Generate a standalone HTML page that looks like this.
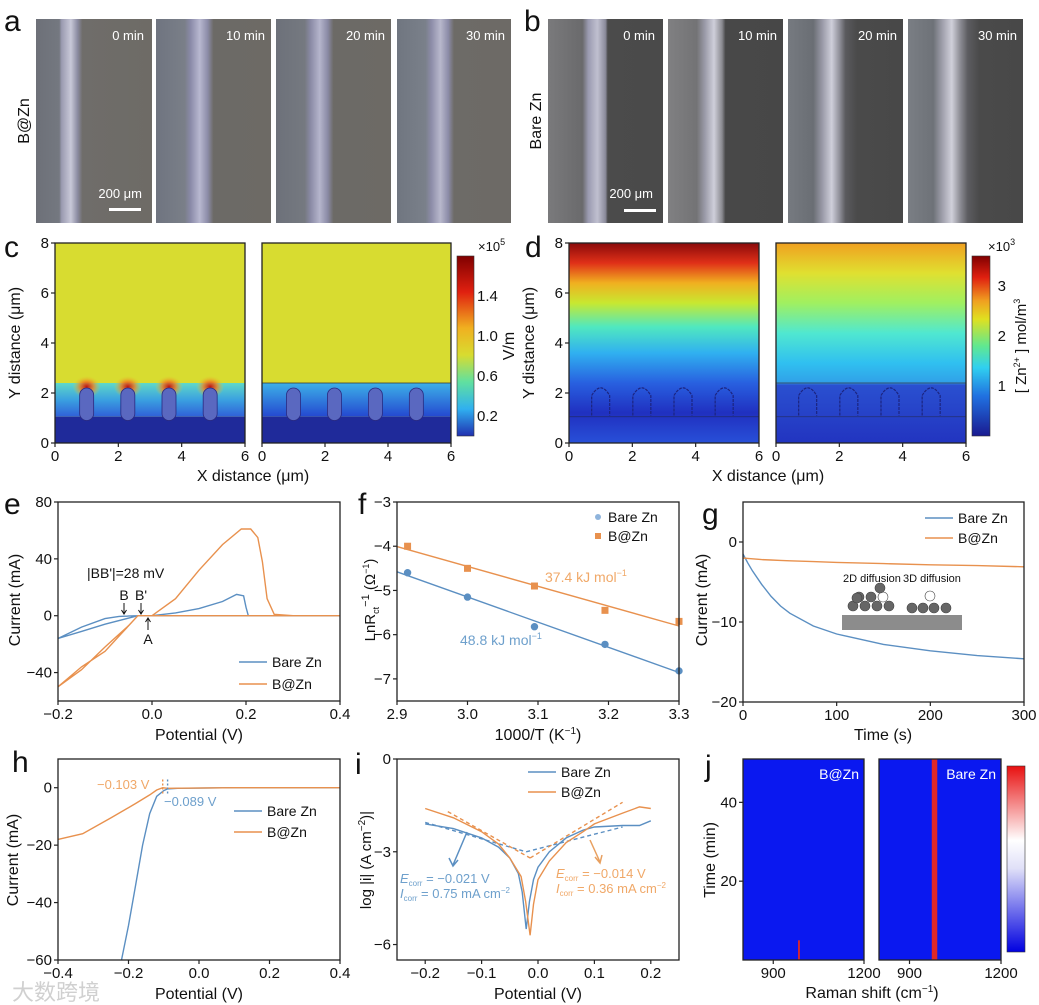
<!DOCTYPE html>
<html><head><meta charset="utf-8">
<style>
body{margin:0;background:#fff;}
#fig{position:relative;width:1039px;height:1005px;overflow:hidden;font-family:"Liberation Sans",Arial,sans-serif;}
.img{position:absolute;top:19px;height:204px;}
.lbl{position:absolute;color:#fff;font-size:13px;}
</style></head>
<body>
<div id="fig">
<!-- micrographs a -->
<div class="img" style="left:36px;width:116px;background:linear-gradient(90deg,#6d7078 0,#747880 20%,#9a9ab0 22%,#c8c8d8 30%,#8a8aa0 36%,#6f6d6a 40%,#6e6b66 100%)"><span class="lbl" style="right:8px;top:9px">0 min</span><span class="lbl" style="right:10px;top:167px">200 μm</span><div style="position:absolute;left:73px;top:189px;width:32px;height:3px;background:#fff"></div></div>
<div class="img" style="left:156px;width:115px;background:linear-gradient(90deg,#6f7480 0,#7a7f88 25%,#8a8aa8 30%,#b8b8d0 38%,#8c8ca8 45%,#6c6a66 50%,#6d6a65 100%)"><span class="lbl" style="right:6px;top:9px">10 min</span></div>
<div class="img" style="left:276px;width:115px;background:linear-gradient(90deg,#6d717a 0,#757980 25%,#8a8aa5 30%,#b5b5cc 38%,#8a8aa5 45%,#6c6a66 50%,#6d6a65 100%)"><span class="lbl" style="right:6px;top:9px">20 min</span></div>
<div class="img" style="left:397px;width:114px;background:linear-gradient(90deg,#707680 0,#7a808a 25%,#8c8ca8 30%,#b8b8cc 38%,#8c8ca8 45%,#6d6b67 50%,#6d6a66 100%)"><span class="lbl" style="right:6px;top:9px">30 min</span></div>
<!-- micrographs b -->
<div class="img" style="left:548px;width:115px;background:linear-gradient(90deg,#7a7a7c 0,#6a6a6c 30%,#9a9ab0 35%,#c0c0d0 43%,#8a8a9a 50%,#4b4b4b 52%,#4a4a4a 100%)"><span class="lbl" style="right:8px;top:9px">0 min</span><span class="lbl" style="right:10px;top:167px">200 μm</span><div style="position:absolute;left:76px;top:190px;width:32px;height:3px;background:#fff"></div></div>
<div class="img" style="left:668px;width:115px;background:linear-gradient(90deg,#808082 0,#737375 25%,#9a9aa8 32%,#cfcfda 40%,#8a8a90 47%,#484848 50%,#474747 100%)"><span class="lbl" style="right:6px;top:9px">10 min</span></div>
<div class="img" style="left:788px;width:115px;background:linear-gradient(90deg,#767a80 0,#6a6e74 22%,#9a9aa8 30%,#cfcfda 38%,#8e8e98 45%,#5a5a5e 50%,#4a4a4a 60%,#484848 100%)"><span class="lbl" style="right:6px;top:9px">20 min</span></div>
<div class="img" style="left:908px;width:115px;background:linear-gradient(90deg,#7a7e84 0,#6e7278 22%,#a0a0ac 30%,#d0d0da 38%,#909098 45%,#5c5c60 52%,#4a4a4a 62%,#484848 100%)"><span class="lbl" style="right:6px;top:9px">30 min</span></div>

<svg id="svg" width="1039" height="1005" style="position:absolute;left:0;top:0">
<defs>
<linearGradient id="cYel" x1="0" y1="0" x2="0" y2="1"><stop offset="0" stop-color="#d9dc2e"/><stop offset="1" stop-color="#d4db34"/></linearGradient>
<linearGradient id="cLow" x1="0" y1="0" x2="0" y2="1"><stop offset="0" stop-color="#5fd8c8"/><stop offset="0.5" stop-color="#3aa0e0"/><stop offset="1" stop-color="#3060d8"/></linearGradient>
<linearGradient id="cLow2" x1="0" y1="0" x2="0" y2="1"><stop offset="0" stop-color="#3db0e8"/><stop offset="1" stop-color="#2448d0"/></linearGradient>
<linearGradient id="jet" x1="0" y1="0" x2="0" y2="1"><stop offset="0" stop-color="#800000"/><stop offset="0.12" stop-color="#e02010"/><stop offset="0.25" stop-color="#f0a020"/><stop offset="0.35" stop-color="#e0e020"/><stop offset="0.5" stop-color="#60e890"/><stop offset="0.62" stop-color="#30d0f0"/><stop offset="0.78" stop-color="#2070e0"/><stop offset="1" stop-color="#1a1a90"/></linearGradient>
<linearGradient id="jetC" x1="0" y1="0" x2="0" y2="1"><stop offset="0" stop-color="#800000"/><stop offset="0.2" stop-color="#e02010"/><stop offset="0.4" stop-color="#f0b020"/><stop offset="0.55" stop-color="#d8dc30"/><stop offset="0.7" stop-color="#60e0a0"/><stop offset="0.85" stop-color="#30b0f0"/><stop offset="1" stop-color="#2030b0"/></linearGradient>
<linearGradient id="dL" x1="0" y1="0" x2="0" y2="1"><stop offset="0" stop-color="#8a0a0a"/><stop offset="0.1" stop-color="#e03018"/><stop offset="0.2" stop-color="#f0b020"/><stop offset="0.3" stop-color="#c8e830"/><stop offset="0.42" stop-color="#50e8c0"/><stop offset="0.55" stop-color="#30b0f0"/><stop offset="0.7" stop-color="#2860e0"/><stop offset="0.85" stop-color="#2030c0"/><stop offset="1" stop-color="#2850d8"/></linearGradient>
<linearGradient id="dR" x1="0" y1="0" x2="0" y2="1"><stop offset="0" stop-color="#f0a020"/><stop offset="0.15" stop-color="#e0e030"/><stop offset="0.3" stop-color="#a0f060"/><stop offset="0.45" stop-color="#50e8d0"/><stop offset="0.6" stop-color="#30c0f0"/><stop offset="0.7" stop-color="#30a0e8"/><stop offset="0.71" stop-color="#2a50d0"/><stop offset="1" stop-color="#2234c0"/></linearGradient>
<linearGradient id="jCb" x1="0" y1="0" x2="0" y2="1"><stop offset="0" stop-color="#e81010"/><stop offset="0.4" stop-color="#fff"/><stop offset="0.55" stop-color="#e0e0f8"/><stop offset="1" stop-color="#0000e0"/></linearGradient>
<radialGradient id="glow"><stop offset="0" stop-color="#c01010"/><stop offset="0.5" stop-color="#f08020" stop-opacity="0.8"/><stop offset="1" stop-color="#e0d030" stop-opacity="0"/></radialGradient>
</defs>
</svg>
</div>
<script>
// ---------- data ----------
const eBareX=[-0.2,-0.15,-0.1,-0.07,-0.03,0.0,0.05,0.1,0.15,0.18,0.195,0.2,0.205,0.3,0.4,0.3,0.1,0.0,-0.03,-0.1,-0.15,-0.2];
const eBareY=[-16,-8,-2,-0.5,0,0,2,5,10,15,14,6,0,0,0,0,0,0,0,-6,-11,-16];
const eBzX=[-0.2,-0.15,-0.1,-0.05,-0.03,0.0,0.05,0.1,0.15,0.19,0.21,0.225,0.235,0.245,0.26,0.3,0.4,0.3,0.1,0.0,-0.03,-0.1,-0.15,-0.2];
const eBzY=[-50,-38,-22,-7,0,0,12,32,50,61,61,55,38,12,1,0,0,0,0,0,0,-25,-36,-50];
const fX=[2.915,3.0,3.095,3.195,3.3];
const fBare=[-4.6,-5.15,-5.82,-6.22,-6.82];
const fBz=[-4.0,-4.5,-4.9,-5.45,-5.7];
const gT=[0,5,10,20,30,40,50,75,100,150,200,250,300];
const gBare=[-1.5,-2.6,-3.6,-5.3,-6.8,-8.0,-8.9,-10.5,-11.5,-12.8,-13.6,-14.2,-14.6];
const gBz=[-2,-2.05,-2.1,-2.2,-2.25,-2.3,-2.35,-2.45,-2.55,-2.7,-2.85,-2.95,-3.1];
const hBareX=[-0.22,-0.2,-0.18,-0.16,-0.14,-0.12,-0.1,-0.089,-0.06,0.1,0.4];
const hBareY=[-60,-48,-34,-20,-9,-3,-1,-0.4,-0.2,0,0];
const hBzX=[-0.4,-0.33,-0.25,-0.18,-0.14,-0.12,-0.103,-0.09,0.1,0.4];
const hBzY=[-18,-16,-10.5,-5.5,-2.5,-0.8,0,-0.2,0,0];
const iBareX=[-0.2,-0.15,-0.1,-0.07,-0.05,-0.035,-0.028,-0.021,-0.015,-0.008,0.0,0.02,0.05,0.08,0.1,0.15,0.18,0.2];
const iBareY=[-2.1,-2.25,-2.55,-2.85,-3.2,-3.7,-4.3,-5.5,-4.6,-3.9,-3.5,-3.0,-2.55,-2.3,-2.2,-2.15,-2.15,-2.0];
const iBzX=[-0.2,-0.15,-0.1,-0.07,-0.05,-0.03,-0.022,-0.014,-0.008,0.0,0.02,0.05,0.08,0.1,0.15,0.18,0.2];
const iBzY=[-1.6,-1.9,-2.35,-2.75,-3.2,-3.8,-4.6,-5.7,-4.7,-3.9,-3.3,-2.7,-2.35,-2.1,-1.75,-1.55,-1.6];
const jBzStripe=[985];
const jBzStripeTop=[5];
const jBareStripe=[982];
const jBareStripeTop=[51];
const dendX=[1.0,2.3,3.6,4.9];

const S=document.getElementById('svg');
const NS='http://www.w3.org/2000/svg';
function mk(tag,attrs,parent){const el=document.createElementNS(NS,tag);for(const k in attrs)el.setAttribute(k,attrs[k]);(parent||S).appendChild(el);return el;}
function txt(x,y,s,opt){opt=opt||{};const t=mk('text',{x:x,y:y,'font-size':opt.fs||14,'text-anchor':opt.a||'middle',fill:opt.c||'#111','font-family':'"Liberation Sans",Arial,sans-serif'});
 if(opt.rot)t.setAttribute('transform','rotate(-90 '+x+' '+y+')');
 if(opt.w)t.setAttribute('font-weight',opt.w);
 if(opt.st)t.setAttribute('font-style',opt.st);
 t.innerHTML=s;return t;}
function scale(d0,d1,p0,p1){return v=>p0+(v-d0)/(d1-d0)*(p1-p0);}
function frame(x0,y0,x1,y1,name){const r=mk('rect',{x:x0,y:y0,width:x1-x0,height:y1-y0,fill:'none',stroke:'#222','stroke-width':1.3});
 
 return r;}
function xticks(sx,vals,y,labels,name){vals.forEach((v,i)=>{const l=mk('line',{x1:sx(v),x2:sx(v),y1:y,y2:y+4,stroke:'#222','stroke-width':1.2});
 
 
 const t=txt(sx(v),y+18,labels[i],{fs:15});
 
 });}
function yticks(sy,vals,x,labels,name){vals.forEach((v,i)=>{const l=mk('line',{x1:x,x2:x-4,y1:sy(v),y2:sy(v),stroke:'#222','stroke-width':1.2});
 
 
 const t=txt(x-6,sy(v)+5,labels[i],{fs:15,a:'end'});
 
 });}
function line(xs,ys,sx,sy,col,name,dash){const d=xs.map((v,i)=>(i?'L':'M')+sx(v).toFixed(1)+','+sy(ys[i]).toFixed(1)).join('');
 const p=mk('path',{d:d,fill:'none',stroke:col,'stroke-width':1.4});
 if(dash)p.setAttribute('stroke-dasharray',dash);
 
 return p;}
function plabel(x,y,s){const t=txt(x,y,s,{fs:30,a:'start'});
 
 }
const BL='#5b8fc2', OR='#e8914e';

// panel letters top
plabel(4,31,'a');plabel(524,31,'b');
let t=txt(29,121,'B@Zn',{fs:16,rot:true});
t=txt(541,121,'Bare Zn',{fs:16,rot:true});

// ---------- panel c ----------
function simC(x0,x1,y0,y1,covered,name){
 const sx=scale(0,6,x0,x1), sy=scale(0,8,y1,y0);
 let r=mk('rect',{x:x0,y:y0,width:x1-x0,height:y1-y0,fill:'#d8dc30'});
 
 
 if(!covered){r=mk('rect',{x:x0,y:sy(2.4),width:x1-x0,height:sy(1.05)-sy(2.4),fill:'url(#cLow)'});
  dendX.forEach(v=>{const g=mk('ellipse',{cx:sx(v),cy:sy(2.25),rx:14,ry:11,fill:'url(#glow)'});
  
  });}
 else {r=mk('rect',{x:x0,y:sy(2.4),width:x1-x0,height:sy(1.05)-sy(2.4),fill:'url(#cLow2)'});
  mk('line',{x1:x0,x2:x1,y1:sy(2.4),y2:sy(2.4),stroke:'#333','stroke-width':0.8});}
 
 
 r=mk('rect',{x:x0,y:sy(1.05),width:x1-x0,height:sy(0)-sy(1.05),fill:'#1f2a9a'});
 
 
 dendX.forEach(v=>{const e=mk('rect',{x:sx(v)-7,y:sy(2.2),width:14,height:sy(0.9)-sy(2.2),rx:7,fill:'#5a68c0',stroke:'#2a2a80','stroke-width':0.8});
  
  });
 frame(x0,y0,x1,y1,name+'-frame');
 xticks(sx,[0,2,4,6],y1,['0','2','4','6'],name+'-x');
 return sy;}
let sy=simC(55,245,243,443,false,'c-left');
yticks(sy,[0,2,4,6,8],55,['0','2','4','6','8'],'c-y');
simC(262,451,243,443,true,'c-right');
plabel(4,257,'c');
t=txt(20,343,'Y distance (μm)',{fs:16,rot:true});
t=txt(253,481,'X distance (μm)',{fs:16});
let cb=mk('rect',{x:457,y:256,width:17,height:180,fill:'url(#jetC)',stroke:'#333','stroke-width':0.6});

const cbC=scale(0,1.8,436,256);
[0.2,0.6,1.0,1.4].forEach(v=>{const tt=txt(477,cbC(v)+5,v.toFixed(1),{fs:15,a:'start'});});
t=txt(478,251,'×10<tspan font-size="9" dy="-6">5</tspan>',{fs:13,a:'start'});
t=txt(514,346,'V/m',{fs:16,rot:true});

// ---------- panel d ----------
function simD(x0,x1,y0,y1,grad,covered,name){
 const sx=scale(0,6,x0,x1), sy=scale(0,8,y1,y0);
 let r=mk('rect',{x:x0,y:y0,width:x1-x0,height:y1-y0,fill:grad});
 
 if(covered){mk('line',{x1:x0,x2:x1,y1:sy(2.4),y2:sy(2.4),stroke:'#334','stroke-width':0.8});}
 mk('line',{x1:x0,x2:x1,y1:sy(1.05),y2:sy(1.05),stroke:'#223','stroke-width':0.7,opacity:0.6});
 dendX.forEach(v=>{const e=mk('path',{d:'M'+(sx(v)-9)+','+sy(1.1)+' L'+(sx(v)-9)+','+sy(1.9)+' Q'+sx(v)+','+(sy(2.35)-4)+' '+(sx(v)+9)+','+sy(1.9)+' L'+(sx(v)+9)+','+sy(1.1),fill:'none',stroke:'#1c2480','stroke-width':1.2,'stroke-dasharray':'3,1'});
  });
 frame(x0,y0,x1,y1,name+'-frame');
 xticks(sx,[0,2,4,6],y1,['0','2','4','6'],name+'-x');
 return sy;}
sy=simD(569,759,243,443,'url(#dL)',false,'d-left');
yticks(sy,[0,2,4,6,8],569,['0','2','4','6','8'],'d-y');
simD(776,966,243,443,'url(#dR)',true,'d-right');
plabel(525,257,'d');
t=txt(534,343,'Y distance (μm)',{fs:16,rot:true});
t=txt(768,481,'X distance (μm)',{fs:16});
cb=mk('rect',{x:972,y:256,width:18,height:180,fill:'url(#jet)',stroke:'#333','stroke-width':0.6});

const cbD=scale(0,3.6,436,256);
[1,2,3].forEach(v=>{const tt=txt(995,cbD(v)+5,String(v),{fs:15,a:'end'});tt.setAttribute('x',1006);});
t=txt(988,251,'×10<tspan font-size="9" dy="-6">3</tspan>',{fs:13,a:'start'});
t=txt(1026,346,'[ Zn<tspan font-size="9" dy="-6">2+</tspan><tspan dy="6"> ] mol/m</tspan><tspan font-size="9" dy="-6">3</tspan>',{fs:15,rot:true});

// ---------- panel e ----------
let sxE=scale(-0.2,0.4,58,340), syE=scale(-60,80,701,502);
line(eBareX,eBareY,sxE,syE,BL,'e-bare-zn-curve');
line(eBzX,eBzY,sxE,syE,OR,'e-bzn-curve');
frame(58,502,340,701,'e-frame');
xticks(sxE,[-0.2,0,0.2,0.4],701,['−0.2','0.0','0.2','0.4'],'e-x');
yticks(syE,[-40,0,40,80],58,['−40','0','40','80'],'e-y');
plabel(4,514,'e');
t=txt(20,600,'Current (mA)',{fs:16,rot:true});
t=txt(199,740,'Potential (V)',{fs:16});
t=txt(87,578,"|BB'|=28 mV",{fs:14,a:'start'});
t=txt(124,600,'B',{fs:14});
t=txt(141,600,"B'",{fs:14});
t=txt(148,644,'A',{fs:14});
[[124,603,124,614],[141,603,141,614],[148,630,148,618]].forEach(a=>{const l=mk('line',{x1:a[0],y1:a[1],x2:a[2],y2:a[3],stroke:'#111','stroke-width':1});
 
 const p=mk('path',{d:'M'+(a[2]-2.5)+','+(a[3]+(a[3]>a[1]?-4:4))+'L'+a[2]+','+a[3]+'L'+(a[2]+2.5)+','+(a[3]+(a[3]>a[1]?-4:4)),fill:'none',stroke:'#111'});
 });
function legendLine(x,y,col,label,name){const l=mk('line',{x1:x,x2:x+28,y1:y,y2:y,stroke:col,'stroke-width':1.5});
 
 const tt=txt(x+33,y+5,label,{fs:14,a:'start'});}
legendLine(239,662,BL,'Bare Zn','e-legend-bare-zn');
legendLine(239,684,OR,'B@Zn','e-legend-bzn');

// ---------- panel f ----------
let sxF=scale(2.9,3.3,397,679), syF=scale(-7.5,-3,701,502);
function fit(xs,ys){const n=xs.length,mx=xs.reduce((a,b)=>a+b)/n,my=ys.reduce((a,b)=>a+b)/n;let num=0,den=0;xs.forEach((x,i)=>{num+=(x-mx)*(ys[i]-my);den+=(x-mx)*(x-mx);});const k=num/den;return [k,my-k*mx];}
[[fBare,BL,'f-bare-zn'],[fBz,OR,'f-bzn']].forEach(s=>{const [k,b]=fit(fX,s[0]);
 line([2.9,3.3],[k*2.9+b,k*3.3+b],sxF,syF,s[1],s[2]+'-fit');
 fX.forEach((x,i)=>{let m;
  if(s[2]=='f-bzn')m=mk('rect',{x:sxF(x)-3.5,y:syF(s[0][i])-3.5,width:7,height:7,fill:s[1]});
  else m=mk('circle',{cx:sxF(x),cy:syF(s[0][i]),r:3.7,fill:s[1]});
  
  });});
frame(397,502,679,701,'f-frame');
xticks(sxF,[2.9,3.0,3.1,3.2,3.3],701,['2.9','3.0','3.1','3.2','3.3'],'f-x');
yticks(syF,[-3,-4,-5,-6,-7],397,['−3','−4','−5','−6','−7'],'f-y');
plabel(358,514,'f');
t=txt(375,600,'LnR<tspan font-size="9" dy="4">ct</tspan><tspan dy="-10" font-size="11">−1</tspan><tspan dy="6"> (Ω</tspan><tspan font-size="9" dy="-6">−1</tspan><tspan dy="6">)</tspan>',{fs:15,rot:true});
t=txt(538,740,'1000/T (K<tspan font-size="10" dy="-6">−1</tspan><tspan dy="6">)</tspan>',{fs:16});
t=txt(545,582,'37.4 kJ mol<tspan font-size="9" dy="-6">−1</tspan>',{fs:14,a:'start',c:'#f0a868'});
t=txt(460,645,'48.8 kJ mol<tspan font-size="9" dy="-6">−1</tspan>',{fs:14,a:'start',c:'#6ea0cc'});
let m=mk('circle',{cx:598,cy:517,r:3,fill:'#8fb4dc'});
t=txt(608,522,'Bare Zn',{fs:14,a:'start'});
m=mk('rect',{x:595,y:533,width:6,height:6,fill:OR});
t=txt(608,541,'B@Zn',{fs:14,a:'start'});

// ---------- panel g ----------
let sxG=scale(0,300,743,1024), syG=scale(-20,5,702,502);
const ins=mk('g',{});
mk('rect',{x:842,y:615,width:120,height:15,fill:'#8c8c8c'},ins);
[[853,606],[865,606],[877,606],[889,606],[859,597],[871,597],[883,597],[857,598],[880,588],[912,608],[923,608],[934,608],[946,608],[930,596]].forEach((p,i)=>{mk('circle',{cx:p[0],cy:p[1],r:5,fill:i==6||i==13?'#fff':'#666',stroke:'#444','stroke-width':0.6},ins);});
t=txt(843,582,'2D diffusion',{fs:11,a:'start'});
t=txt(903,582,'3D diffusion',{fs:11,a:'start'});
line(gT,gBare,sxG,syG,BL,'g-bare-zn-curve');
line(gT,gBz,sxG,syG,OR,'g-bzn-curve');
frame(743,502,1024,702,'g-frame');
xticks(sxG,[0,100,200,300],702,['0','100','200','300'],'g-x');
yticks(syG,[0,-10,-20],743,['0','−10','−20'],'g-y');
plabel(702,524,'g');
t=txt(707,600,'Current (mA)',{fs:16,rot:true});
t=txt(883,740,'Time (s)',{fs:16});
legendLine(925,518,BL,'Bare Zn','g-legend-bare-zn');
legendLine(925,538,OR,'B@Zn','g-legend-bzn');

// ---------- panel h ----------
let sxH=scale(-0.4,0.4,58,340), syH=scale(-60,10,960,759);
line(hBareX,hBareY,sxH,syH,BL,'h-bare-zn-curve');
line(hBzX,hBzY,sxH,syH,OR,'h-bzn-curve');
line([-0.103,-0.103],[-2,3],sxH,syH,OR,'h-bzn-onset-marker','2,2');
line([-0.089,-0.089],[-2,3],sxH,syH,BL,'h-bare-onset-marker','2,2');
frame(58,759,340,960,'h-frame');
xticks(sxH,[-0.4,-0.2,0,0.2,0.4],960,['−0.4','−0.2','0.0','0.2','0.4'],'h-x');
yticks(syH,[0,-20,-40,-60],58,['0','−20','−40','−60'],'h-y');
plabel(12,772,'h');
t=txt(18,860,'Current (mA)',{fs:16,rot:true});
t=txt(199,999,'Potential (V)',{fs:16});
t=txt(97,789,'−0.103 V',{fs:13,a:'start',c:'#f0a868'});
t=txt(164,806,'−0.089 V',{fs:13,a:'start',c:'#6ea0cc'});
legendLine(234,811,BL,'Bare Zn','h-legend-bare-zn');
legendLine(234,832,OR,'B@Zn','h-legend-bzn');
t=txt(12,1000,'大数跨境',{fs:22,a:'start',c:'#d0d0d0'});t.setAttribute('font-family','"Liberation Sans","Noto Sans CJK SC",sans-serif');

// ---------- panel i ----------
let sxI=scale(-0.25,0.25,397,679), syI=scale(-6.5,0,960,759);
line([-0.2,-0.021],[-2.05,-3.0],sxI,syI,BL,'i-bare-cathodic-tangent','4,3');
line([-0.021,0.15],[-3.0,-2.2],sxI,syI,BL,'i-bare-anodic-tangent','4,3');
line([-0.16,-0.014],[-1.7,-3.2],sxI,syI,OR,'i-bzn-cathodic-tangent','4,3');
line([-0.014,0.15],[-3.2,-1.4],sxI,syI,OR,'i-bzn-anodic-tangent','4,3');
line(iBareX,iBareY,sxI,syI,BL,'i-bare-zn-curve');
line(iBzX,iBzY,sxI,syI,OR,'i-bzn-curve');
frame(397,759,679,960,'i-frame');
xticks(sxI,[-0.2,-0.1,0,0.1,0.2],960,['−0.2','−0.1','0.0','0.1','0.2'],'i-x');
yticks(syI,[0,-3,-6],397,['0','−3','−6'],'i-y');
plabel(355,774,'i');
t=txt(371,860,'log |i| (A cm<tspan font-size="10" dy="-6">−2</tspan><tspan dy="6">)|</tspan>',{fs:15,rot:true});
t=txt(538,999,'Potential (V)',{fs:16});
legendLine(528,772,BL,'Bare Zn','i-legend-bare-zn');
legendLine(528,792,OR,'B@Zn','i-legend-bzn');
t=txt(400,883,'<tspan font-style="italic">E</tspan><tspan font-size="8" dy="3">corr</tspan><tspan dy="-3"> = −0.021 V</tspan>',{fs:13,a:'start',c:'#6ea0cc'});
t=txt(400,898,'<tspan font-style="italic">I</tspan><tspan font-size="8" dy="3">corr</tspan><tspan dy="-3"> = 0.75 mA cm</tspan><tspan font-size="8" dy="-5">−2</tspan>',{fs:13,a:'start',c:'#6ea0cc'});
t=txt(556,878,'<tspan font-style="italic">E</tspan><tspan font-size="8" dy="3">corr</tspan><tspan dy="-3"> = −0.014 V</tspan>',{fs:13,a:'start',c:'#f0a868'});
t=txt(556,893,'<tspan font-style="italic">I</tspan><tspan font-size="8" dy="3">corr</tspan><tspan dy="-3"> = 0.36 mA cm</tspan><tspan font-size="8" dy="-5">−2</tspan>',{fs:13,a:'start',c:'#f0a868'});
let ar=mk('path',{d:'M467,832 L453,865 M449,858 L453,866 L458,860',fill:'none',stroke:'#5b8fc2','stroke-width':1.5});
ar=mk('path',{d:'M590,840 L600,862 M595,857 L600,863 L602,855',fill:'none',stroke:'#e8a060','stroke-width':1.5});

// ---------- panel j ----------
function heat(x0,x1,stripes,tops,wid,name,label){
 const sx=scale(800,1200,x0,x1), sy=scale(0,51,960,759);
 let r=mk('rect',{x:x0,y:759,width:x1-x0,height:201,fill:'#0a18f0'});
 
 stripes.forEach((c,i)=>{const s=mk('rect',{x:sx(c-wid/2),y:sy(tops[i]),width:sx(c+wid/2)-sx(c-wid/2),height:960-sy(tops[i]),fill:'#e02828'});
  });
 frame(x0,759,x1,960,name+'-frame');
 xticks(sx,[900,1200],960,['900','1200'],name+'-x');
 const tt=txt(x1-5,779,label,{fs:14,a:'end',c:'#fff'});
 return sy;}
sy=heat(743,864,jBzStripe,jBzStripeTop,6,'j-bzn','B@Zn');
yticks(sy,[20,40],743,['20','40'],'j-y');
heat(879,1001,jBareStripe,jBareStripeTop,18,'j-bare-zn','Bare Zn');
plabel(705,776,'j');
cb=mk('rect',{x:1007,y:766,width:18,height:186,fill:'url(#jCb)',stroke:'#333','stroke-width':0.6});
t=txt(715,860,'Time (min)',{fs:16,rot:true});
t=txt(872,998,'Raman shift (cm<tspan font-size="10" dy="-6">−1</tspan><tspan dy="6">)</tspan>',{fs:16});
</script>
</body></html>
